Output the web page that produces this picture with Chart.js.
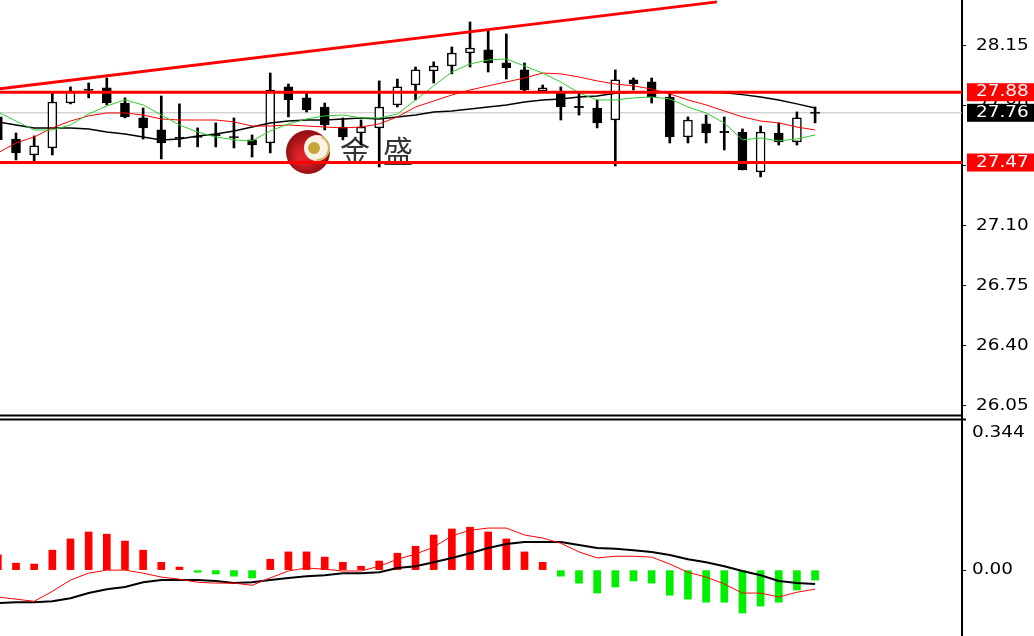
<!DOCTYPE html>
<html>
<head>
<meta charset="utf-8">
<script src="https://cdn.jsdelivr.net/npm/chart.js@4.4.1/dist/chart.umd.min.js"></script>
<style>
  html, body { margin: 0; padding: 0; background: #fff; }
  body { width: 1034px; height: 636px; position: relative; overflow: hidden; }
  #priceWrap { position: absolute; left: 0; top: 0; width: 1034px; height: 414px; }
  #macdWrap { position: absolute; left: 0; top: 414px; width: 1034px; height: 222px; }
</style>
</head>
<body>
<div id="priceWrap"><canvas id="priceChart"></canvas></div>
<div id="macdWrap"><canvas id="macdChart"></canvas></div>
<script>
// bar index (first bar is only half visible at the left edge)
const barIdx = [-1, 0, 1, 2, 3, 4, 5, 6, 7, 8, 9, 10, 11, 12, 13, 14, 15, 16, 17, 18, 19, 20, 21, 22,
  23, 24, 25, 26, 27, 28, 29, 30, 31, 32, 33, 34, 35, 36, 37, 38, 39, 40, 41, 42, 43, 44];

const opens = [27.736, 27.607, 27.514, 27.555, 27.817, 27.899, 27.905, 27.817, 27.730, 27.660, 27.618, 27.624,
  27.634, 27.622, 27.602, 27.584, 27.911, 27.847, 27.794, 27.677, 27.642, 27.672, 27.806, 27.922, 28.004, 28.033,
  28.109, 28.127, 28.051, 28.010, 27.887, 27.876, 27.798, 27.788, 27.718, 27.952, 27.940, 27.852, 27.619, 27.695,
  27.652, 27.648, 27.415, 27.642, 27.590, 27.764];
const highs = [27.765, 27.642, 27.625, 27.876, 27.911, 27.934, 27.963, 27.847, 27.788, 27.858, 27.812, 27.672,
  27.701, 27.730, 27.631, 27.992, 27.928, 27.876, 27.817, 27.730, 27.718, 27.946, 27.957, 28.027, 28.057, 28.144,
  28.290, 28.243, 28.220, 28.051, 27.922, 27.911, 27.882, 27.835, 28.010, 27.963, 27.963, 27.876, 27.736, 27.747,
  27.736, 27.666, 27.683, 27.701, 27.765, 27.794];
const lows = [27.572, 27.485, 27.479, 27.514, 27.812, 27.847, 27.806, 27.730, 27.607, 27.491, 27.561, 27.561,
  27.561, 27.555, 27.502, 27.526, 27.736, 27.765, 27.660, 27.602, 27.572, 27.444, 27.794, 27.835, 27.934, 27.987,
  28.027, 27.998, 27.957, 27.882, 27.887, 27.718, 27.747, 27.672, 27.450, 27.893, 27.817, 27.584, 27.584, 27.584,
  27.543, 27.427, 27.386, 27.572, 27.572, 27.701];
const closes = [27.602, 27.526, 27.567, 27.823, 27.887, 27.890, 27.817, 27.736, 27.672, 27.584, 27.610, 27.616,
  27.626, 27.613, 27.572, 27.893, 27.835, 27.777, 27.689, 27.619, 27.677, 27.794, 27.911, 28.010, 28.033, 28.109,
  28.138, 28.051, 28.022, 27.893, 27.905, 27.794, 27.790, 27.701, 27.952, 27.928, 27.852, 27.619, 27.718, 27.642,
  27.644, 27.427, 27.648, 27.590, 27.730, 27.756];

// moving averages
const maFast = [27.765, 27.712, 27.660, 27.660, 27.689, 27.753, 27.800, 27.835, 27.806, 27.747, 27.689, 27.648,
  27.619, 27.602, 27.596, 27.654, 27.695, 27.724, 27.742, 27.747, 27.730, 27.730, 27.753, 27.835, 27.917, 27.998,
  28.045, 28.068, 28.074, 28.033, 27.992, 27.940, 27.876, 27.835, 27.835, 27.847, 27.852, 27.841, 27.794, 27.759,
  27.701, 27.602, 27.613, 27.596, 27.607, 27.631];
const maMid = [27.526, 27.584, 27.619, 27.672, 27.712, 27.742, 27.759, 27.759, 27.747, 27.724, 27.718, 27.718,
  27.718, 27.707, 27.683, 27.683, 27.689, 27.683, 27.677, 27.672, 27.677, 27.695, 27.736, 27.794, 27.829, 27.864,
  27.893, 27.917, 27.940, 27.963, 27.992, 27.987, 27.969, 27.946, 27.928, 27.917, 27.899, 27.870, 27.835, 27.806,
  27.771, 27.736, 27.712, 27.701, 27.677, 27.660];
const maSlow = [27.707, 27.689, 27.672, 27.672, 27.672, 27.666, 27.648, 27.637, 27.619, 27.602, 27.607, 27.625,
  27.637, 27.654, 27.677, 27.701, 27.712, 27.718, 27.718, 27.724, 27.730, 27.724, 27.736, 27.747, 27.765, 27.771,
  27.782, 27.794, 27.806, 27.823, 27.835, 27.841, 27.852, 27.858, 27.874, 27.880, 27.882, 27.882, 27.882, 27.880,
  27.877, 27.866, 27.852, 27.835, 27.812, 27.788];

// MACD panel
const macdHist = [0.035, 0.016, 0.014, 0.046, 0.072, 0.088, 0.083, 0.067, 0.046, 0.018, 0.007, -0.005, -0.009,
  -0.014, -0.018, 0.025, 0.042, 0.042, 0.030, 0.018, 0.009, 0.021, 0.039, 0.055, 0.081, 0.095, 0.099, 0.088, 0.072,
  0.042, 0.018, -0.014, -0.030, -0.053, -0.039, -0.025, -0.030, -0.058, -0.067, -0.074, -0.074, -0.099, -0.083,
  -0.074, -0.046, -0.023];
const macdRed = [-0.062, -0.067, -0.072, -0.049, -0.023, -0.007, 0.000, 0.000, -0.007, -0.016, -0.021, -0.028,
  -0.030, -0.030, -0.035, -0.018, -0.002, 0.005, 0.002, -0.002, -0.002, 0.009, 0.025, 0.037, 0.053, 0.079, 0.092,
  0.097, 0.097, 0.081, 0.074, 0.062, 0.042, 0.028, 0.032, 0.032, 0.030, 0.014, -0.005, -0.016, -0.032, -0.053,
  -0.053, -0.062, -0.051, -0.044];
const macdBlack = [-0.076, -0.074, -0.074, -0.072, -0.065, -0.053, -0.044, -0.039, -0.028, -0.023, -0.023, -0.023,
  -0.025, -0.030, -0.028, -0.023, -0.018, -0.014, -0.012, -0.007, -0.007, -0.005, 0.005, 0.009, 0.018, 0.028, 0.039,
  0.051, 0.060, 0.065, 0.065, 0.065, 0.058, 0.051, 0.049, 0.046, 0.042, 0.035, 0.025, 0.018, 0.009, -0.002, -0.012,
  -0.025, -0.030, -0.032];

// levels and trend line
const levelLines = [27.88, 27.47];
const lastPrice = 27.76;
const trendStart = [-0.88, 27.900];
const trendEnd = [38.6, 28.407];

// axes
const priceTicks = [26.05, 26.40, 26.75, 27.10, 27.45, 27.80, 28.15];
const priceMin = 26.003, priceMax = 28.418;
const macdMin = -0.152, macdMax = 0.344;
const xMin = -0.881, xMax = 52.09;

const AXIS_W = 72;
const labelFont = '16px "DejaVu Sans"';

function wideText(ctx, txt, x, y, color) {
  ctx.save();
  ctx.translate(x, y);
  ctx.scale(1.15, 1);
  ctx.fillStyle = color;
  ctx.fillText(txt, 0, 0);
  ctx.restore();
}

function pts(arr) {
  return barIdx.map((x, i) => ({ x: x, y: arr[i] }));
}

const bodyColors = barIdx.map((_, i) => closes[i] >= opens[i] ? '#ffffff' : '#000000');

const xScale = { type: 'linear', min: xMin, max: xMax, display: false, offset: false };

function fixAxis(scale) {
  scale.width = AXIS_W;
  scale.paddingTop = 0;
  scale.paddingBottom = 0;
}

const priceDecor = {
  id: 'priceDecor',
  beforeDatasetsDraw(chart) {
    // 金盛 watermark
    const ctx = chart.ctx;
    const cx = 308, cy = 152;
    ctx.save();
    const g = ctx.createRadialGradient(cx - 6, cy + 6, 4, cx, cy, 23);
    g.addColorStop(0, '#e3262b');
    g.addColorStop(1, '#8f0c10');
    ctx.fillStyle = g;
    ctx.beginPath(); ctx.arc(cx, cy, 22, 0, Math.PI * 2); ctx.fill();
    ctx.fillStyle = '#fbf3e6';
    ctx.beginPath(); ctx.arc(cx + 9, cy - 4, 13, 0, Math.PI * 2); ctx.fill();
    ctx.strokeStyle = '#d4b25a';
    ctx.lineWidth = 2;
    ctx.beginPath(); ctx.arc(cx + 9, cy - 4, 12, -1.2, 1.6); ctx.stroke();
    ctx.fillStyle = '#c9a43a';
    ctx.beginPath(); ctx.arc(cx + 6, cy - 4, 6, 0, Math.PI * 2); ctx.fill();
    ctx.fillStyle = '#333333';
    ctx.font = '30px "Noto Sans CJK SC"';
    ctx.textBaseline = 'middle';
    ctx.textAlign = 'left';
    ctx.fillText('金', 340, 151);
    ctx.fillText('盛', 383, 151);
    ctx.restore();
  },
  afterDraw(chart) {
    const ctx = chart.ctx;
    const y = chart.scales.y;
    const x0 = chart.chartArea.right;
    ctx.save();
    ctx.font = labelFont;
    ctx.textBaseline = 'middle';
    ctx.textAlign = 'left';
    priceTicks.forEach(v => wideText(ctx, v.toFixed(2), x0 + 14, y.getPixelForValue(v), '#000000'));
    const boxes = [
      { v: levelLines[0], bg: '#ff0000' },
      { v: lastPrice, bg: '#000000' },
      { v: levelLines[1], bg: '#ff0000' }
    ];
    boxes.forEach(b => {
      const py = y.getPixelForValue(b.v);
      ctx.fillStyle = b.bg;
      ctx.fillRect(x0 + 5, py - 9, AXIS_W - 5, 18);
      wideText(ctx, b.v.toFixed(2), x0 + 14, py, '#ffffff');
    });
    ctx.restore();
  }
};

const macdDecor = {
  id: 'macdDecor',
  afterDraw(chart) {
    const ctx = chart.ctx;
    const y = chart.scales.y;
    const x0 = chart.chartArea.right;
    ctx.save();
    ctx.fillStyle = '#000';
    ctx.fillRect(0, 0.5, x0, 2);
    ctx.fillRect(0, 4.5, x0 + 4, 2);
    ctx.fillRect(x0 - 1, 0, 2, chart.chartArea.top);
    ctx.font = labelFont;
    ctx.textAlign = 'left';
    ctx.textBaseline = 'middle';
    wideText(ctx, macdMax.toFixed(3), x0 + 10, y.getPixelForValue(macdMax) + 12, '#000000');
    wideText(ctx, (0).toFixed(2), x0 + 10, y.getPixelForValue(0), '#000000');
    ctx.restore();
  }
};

new Chart(document.getElementById('priceChart').getContext('2d'), {
  type: 'bar',
  data: {
    datasets: [
      {
        type: 'line', order: 20,
        data: [{ x: xMin, y: lastPrice }, { x: xMax, y: lastPrice }],
        borderColor: '#c0c0c0', borderWidth: 1, pointRadius: 0
      },
      {
        order: 12,
        data: barIdx.map((x, i) => ({ x: x, y: [lows[i], highs[i]] })),
        backgroundColor: '#000', barThickness: 2, grouped: false
      },
      {
        order: 11,
        data: barIdx.map((x, i) => ({ x: x, y: [opens[i], closes[i]] })),
        backgroundColor: bodyColors, borderColor: '#000', borderWidth: 1.5,
        borderSkipped: false, barThickness: 9, grouped: false
      },
      { type: 'line', order: 6, data: pts(maSlow), borderColor: '#000000', borderWidth: 1.5, pointRadius: 0 },
      { type: 'line', order: 5, data: pts(maMid), borderColor: '#ff0000', borderWidth: 1, pointRadius: 0 },
      { type: 'line', order: 4, data: pts(maFast), borderColor: '#2ecc2e', borderWidth: 1, pointRadius: 0 },
      ...levelLines.map(lv => ({
        type: 'line', order: 2,
        data: [{ x: xMin, y: lv }, { x: xMax, y: lv }],
        borderColor: '#ff0000', borderWidth: 3, pointRadius: 0
      })),
      {
        type: 'line', order: 1,
        data: [{ x: trendStart[0], y: trendStart[1] }, { x: trendEnd[0], y: trendEnd[1] }],
        borderColor: '#ff0000', borderWidth: 3, pointRadius: 0
      }
    ]
  },
  options: {
    responsive: true,
    maintainAspectRatio: false,
    animation: false,
    events: [],
    layout: { padding: 0 },
    plugins: { legend: { display: false }, tooltip: { enabled: false } },
    scales: {
      x: xScale,
      y: {
        type: 'linear', position: 'right', min: priceMin, max: priceMax,
        afterBuildTicks: s => { s.ticks = priceTicks.map(v => ({ value: v })); },
        afterFit: fixAxis,
        ticks: { display: false },
        grid: { drawOnChartArea: false, drawTicks: true, tickLength: 4, tickColor: '#000', tickWidth: 1 },
        border: { display: true, color: '#000', width: 2 }
      }
    }
  },
  plugins: [priceDecor]
});

new Chart(document.getElementById('macdChart').getContext('2d'), {
  type: 'bar',
  data: {
    datasets: [
      {
        order: 5,
        data: pts(macdHist),
        backgroundColor: macdHist.map(v => v >= 0 ? '#ff0000' : '#00ee00'),
        barThickness: 7, grouped: false
      },
      { type: 'line', order: 2, data: pts(macdBlack), borderColor: '#000000', borderWidth: 2, pointRadius: 0 },
      { type: 'line', order: 1, data: pts(macdRed), borderColor: '#ff0000', borderWidth: 1, pointRadius: 0 }
    ]
  },
  options: {
    responsive: true,
    maintainAspectRatio: false,
    animation: false,
    events: [],
    layout: { padding: { top: 7, left: 0, right: 0, bottom: 0 } },
    plugins: { legend: { display: false }, tooltip: { enabled: false } },
    scales: {
      x: xScale,
      y: {
        type: 'linear', position: 'right', min: macdMin, max: macdMax,
        afterBuildTicks: s => { s.ticks = [{ value: 0 }]; },
        afterFit: fixAxis,
        ticks: { display: false },
        grid: { drawOnChartArea: false, drawTicks: true, tickLength: 4, tickColor: '#000', tickWidth: 1 },
        border: { display: true, color: '#000', width: 2 }
      }
    }
  },
  plugins: [macdDecor]
});
</script>
</body>
</html>
